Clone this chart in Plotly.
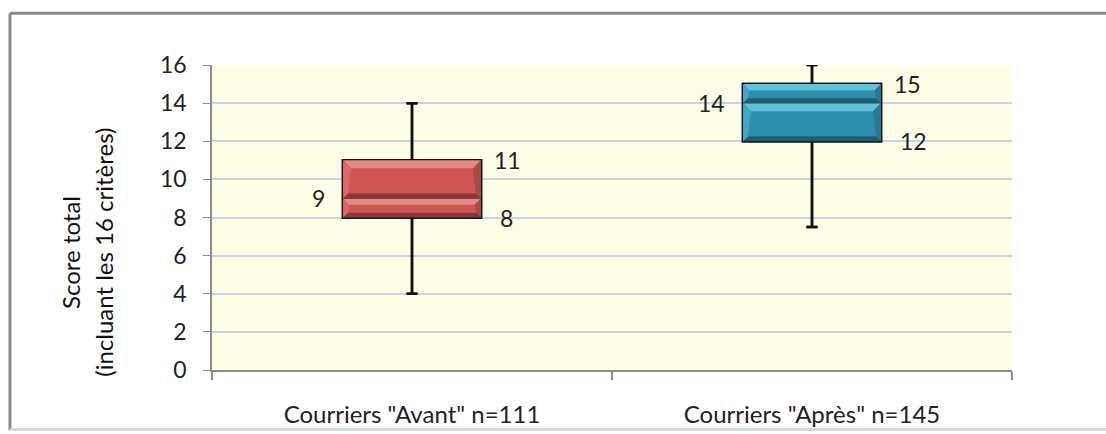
import plotly.graph_objects as go

categories = ['Courriers "Avant" n=111', 'Courriers "Après" n=145']
q1 = [8, 12]
median = [9, 14]
q3 = [11, 15]
lower = [4, 7.5]
upper = [14, 16]
fills = ["#cd5553", "#2c8fac"]
bevel_top = ["#e48a86", "#62c0d8"]
bevel_left = ["#d76a67", "#42a6c2"]
bevel_right = ["#ac4846", "#247a92"]
bevel_bottom = ["#8c3735", "#1d5f72"]
yticks = [0, 2, 4, 6, 8, 10, 12, 14, 16]

FONT = "Lato"
BOXW = 0.345
PX_X = 1 / 400.0   # one pixel in x data units
PX_Y = 16 / 305.0  # one pixel in y data units
fig = go.Figure()


def poly(xs, ys, color):
    fig.add_trace(go.Scatter(x=xs + [xs[0]], y=ys + [ys[0]], fill="toself", fillcolor=color,
                             mode="lines", line=dict(width=0), hoverinfo="skip", showlegend=False))


for i, cat in enumerate(categories):
    box = dict(x=[i], q1=[q1[i]], median=[median[i]], q3=[q3[i]],
               lowerfence=[lower[i]], upperfence=[upper[i]],
               width=BOXW, whiskerwidth=0.08, line=dict(color="#111111", width=2.5),
               boxpoints=False, showlegend=False, hoverinfo="skip")
    fig.add_trace(go.Box(fillcolor=fills[i], **box))
    x0, x1 = i - BOXW / 2, i + BOXW / 2
    for lo, hi in [(q1[i], median[i]), (median[i], q3[i])]:
        seg_px = (hi - lo) / PX_Y
        b = min(8, seg_px / 3)
        bb = min(5, seg_px / 4)
        bx, by = b * PX_X, b * PX_Y
        bbx, bby = bb * PX_X, bb * PX_Y
        poly([x0, x1, x1 - bx, x0 + bx], [hi, hi, hi - by, hi - by], bevel_top[i])
        poly([x0, x1, x1 - bbx, x0 + bbx], [lo, lo, lo + bby, lo + bby], bevel_bottom[i])
        poly([x0, x0 + bx, x0 + bbx, x0], [hi, hi - by, lo + bby, lo], bevel_left[i])
        poly([x1, x1 - bx, x1 - bbx, x1], [hi, hi - by, lo + bby, lo], bevel_right[i])
    fig.add_trace(go.Box(fillcolor="rgba(0,0,0,0)", **box))

    # value labels
    fig.add_annotation(x=i + 0.2, y=q3[i], text=str(q3[i]), xref="x", yref="y",
                       xanchor="left", yanchor="middle", showarrow=False,
                       font=dict(family=FONT, size=23, color="#222"))
    fig.add_annotation(x=i + 0.215, y=q1[i], text=str(q1[i]), xref="x", yref="y",
                       xanchor="left", yanchor="middle", showarrow=False,
                       font=dict(family=FONT, size=23, color="#222"))
    fig.add_annotation(x=i - 0.212, y=median[i], text=str(median[i]), xref="x", yref="y",
                       xanchor="right", yanchor="middle", showarrow=False,
                       font=dict(family=FONT, size=23, color="#222"))

fig.add_annotation(x=-0.177, y=0.385, xref="paper", yref="paper", text="Score total",
                   textangle=-90, showarrow=False, xanchor="center", yanchor="middle",
                   font=dict(family=FONT, size=24, color="#111"))
fig.add_annotation(x=-0.136, y=0.385, xref="paper", yref="paper", text="(incluant les 16 critères)",
                   textangle=-90, showarrow=False, xanchor="center", yanchor="middle",
                   font=dict(family=FONT, size=24, color="#111"))

# outer frame (left, top, bottom shadow)
fig.add_shape(type="line", xref="paper", yref="paper", x0=-0.2525, x1=-0.2525, y0=-0.197, y1=1.17,
              line=dict(color="#8a8a8a", width=3))
fig.add_shape(type="line", xref="paper", yref="paper", x0=-0.2525, x1=1.2, y0=1.17, y1=1.17,
              line=dict(color="#8a8a8a", width=3))
fig.add_shape(type="line", xref="paper", yref="paper", x0=-0.2525, x1=1.2, y0=-0.195, y1=-0.195,
              line=dict(color="#d8d8d8", width=3))

fig.update_layout(
    width=1106, height=434,
    margin=dict(l=212, r=94, t=65, b=64),
    paper_bgcolor="white", plot_bgcolor="#fefde6",
    boxmode="overlay",
    xaxis=dict(range=[-0.5, 1.5], tickvals=[0, 1], ticktext=categories, automargin=False,
               showline=True, linecolor="#8c8c8c", linewidth=1.5, ticks="", showgrid=False,
               zeroline=False,
               minor=dict(tickmode="array", tickvals=[-0.5, 0.5, 1.5], ticks="outside",
                          ticklen=8, tickcolor="#8c8c8c", tickwidth=1.5, showgrid=False),
               tickfont=dict(family=FONT, size=24, color="#222"), ticklabelstandoff=22),
    yaxis=dict(range=[0, 16], tickvals=yticks, showline=True, linecolor="#8c8c8c",
               linewidth=1.5, ticks="outside", ticklen=7, tickcolor="#8c8c8c", automargin=False,
               gridcolor="#c9d2e6", gridwidth=1.5, zeroline=False,
               tickfont=dict(family=FONT, size=23, color="#222"), ticklabelstandoff=12),
)
fig.write_html("out.html", config={"displayModeBar": False})
with open("out.html", encoding="utf-8") as f:
    html = f.read()
html = html.replace("<body>", '<body style="margin:0;overflow:hidden">', 1)
with open("out.html", "w", encoding="utf-8") as f:
    f.write(html)
